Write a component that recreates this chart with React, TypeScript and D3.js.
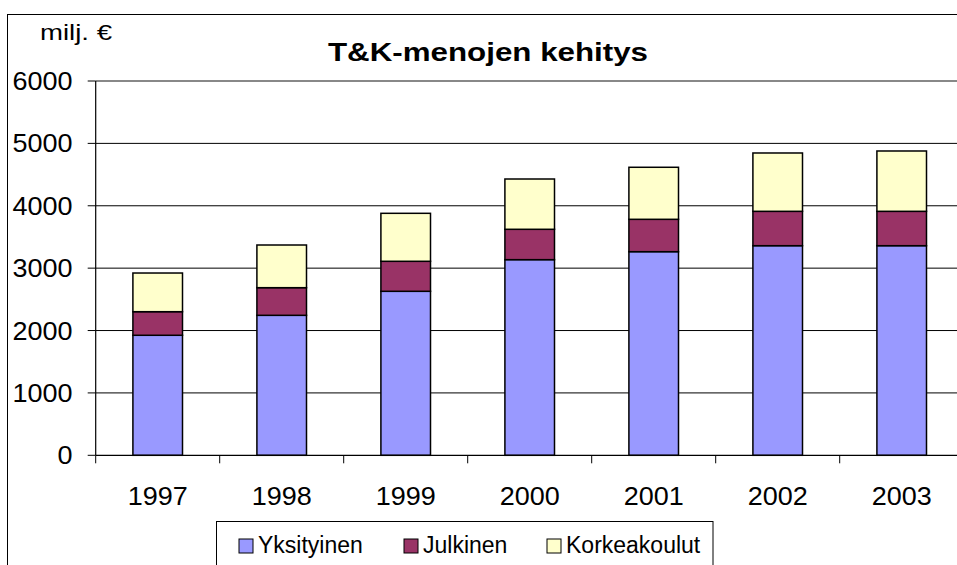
import React from 'react';
import * as d3 from 'd3';

const width = 957;
const height = 565;
const plot = { left: 95.7, right: 963.7, top: 81, bottom: 455.3 };

const years = ['1997', '1998', '1999', '2000', '2001', '2002', '2003'];
const yksityinen = [1924, 2244, 2629, 3136, 3264, 3360, 3360];
const julkinen = [378, 443, 481, 487, 519, 551, 551];
const korkeakoulut = [620, 684, 769, 806, 834, 935, 967];
const yTicks = [0, 1000, 2000, 3000, 4000, 5000, 6000];

const seriesNames = ['Yksityinen', 'Julkinen', 'Korkeakoulut'];
const colors = ['#9999FF', '#993366', '#FFFFCC'];

const font = 'Liberation Sans, Arial, sans-serif';

// text a bit wider than the font, like the original
const Wide = ({ x, y, anchor = 'start', size = 25, sx = 1.08, children }: any) => (
  <text
    transform={`translate(${x},${y}) scale(${sx},1)`}
    fontSize={size}
    textAnchor={anchor}
  >
    {children}
  </text>
);

export default function App() {
  const x = d3
    .scaleBand()
    .domain(years)
    .range([plot.left, plot.right])
    .paddingInner(0.6)
    .paddingOuter(0.3);
  const y = d3.scaleLinear().domain([0, 6000]).range([plot.bottom, plot.top]);

  const rows = years.map((yr, i) => ({
    year: yr,
    Yksityinen: yksityinen[i],
    Julkinen: julkinen[i],
    Korkeakoulut: korkeakoulut[i]
  }));
  const stacked = d3.stack<any>().keys(seriesNames)(rows);

  const gap = x.step() * x.paddingOuter();

  // legend swatch positions
  const legendX = [239, 404, 547];

  return (
    <svg
      width={width}
      height={height}
      style={{ position: 'absolute', left: 0, top: 0, background: 'white' }}
      fontFamily={font}
    >
      {/* chart area border */}
      <rect x={7.5} y={14.5} width={960} height={570} fill="white" stroke="#000" strokeWidth={1} />

      <text x={40} y={40} fontSize={22} textLength={72} lengthAdjust="spacingAndGlyphs">milj. €</text>
      <text x={488} y={61} fontSize={26} fontWeight="bold" textAnchor="middle" textLength={320} lengthAdjust="spacingAndGlyphs">
        T&amp;K-menojen kehitys
      </text>

      {/* gridlines */}
      {yTicks.filter(t => t > 0 && t < 6000).map(t => (
        <line key={t} x1={plot.left} x2={plot.right} y1={y(t)} y2={y(t)} stroke="#000" strokeWidth={1} />
      ))}
      <line x1={plot.left} x2={plot.right} y1={y(6000)} y2={y(6000)} stroke="#888" strokeWidth={2} />

      {/* bars */}
      {stacked.map((s, si) =>
        s.map((d, i) => (
          <rect
            key={si + '-' + i}
            x={x(years[i])}
            y={y(d[1])}
            width={x.bandwidth()}
            height={y(d[0]) - y(d[1])}
            fill={colors[si]}
            stroke="#000"
            strokeWidth={1.5}
          />
        ))
      )}

      {/* y axis */}
      <line x1={plot.left} x2={plot.left} y1={plot.top} y2={plot.bottom} stroke="#000" strokeWidth={1.2} />
      {yTicks.map(t => (
        <g key={t}>
          <line x1={plot.left - 8} x2={plot.left} y1={y(t)} y2={y(t)} stroke="#000" />
          <Wide x={72.5} y={y(t) + 9} anchor="end">{t}</Wide>
        </g>
      ))}

      {/* x axis */}
      <line x1={plot.left} x2={plot.right} y1={plot.bottom} y2={plot.bottom} stroke="#000" strokeWidth={1.2} />
      {years.map(yr => (
        <g key={yr}>
          <line
            x1={(x(yr) as number) - gap}
            x2={(x(yr) as number) - gap}
            y1={plot.bottom}
            y2={plot.bottom + 8}
            stroke="#000"
          />
          <Wide x={(x(yr) as number) + x.bandwidth() / 2} y={505} anchor="middle">{yr}</Wide>
        </g>
      ))}

      {/* legend */}
      <rect x={216.5} y={521.5} width={496.5} height={60} fill="white" stroke="#000" strokeWidth={1} />
      {seriesNames.map((n, i) => (
        <g key={n}>
          <rect x={legendX[i]} y={539} width={14} height={14} fill={colors[i]} stroke="#000" strokeWidth={1} />
          <text x={legendX[i] + 19} y={553} fontSize={23}>{n}</text>
        </g>
      ))}
    </svg>
  );
}
